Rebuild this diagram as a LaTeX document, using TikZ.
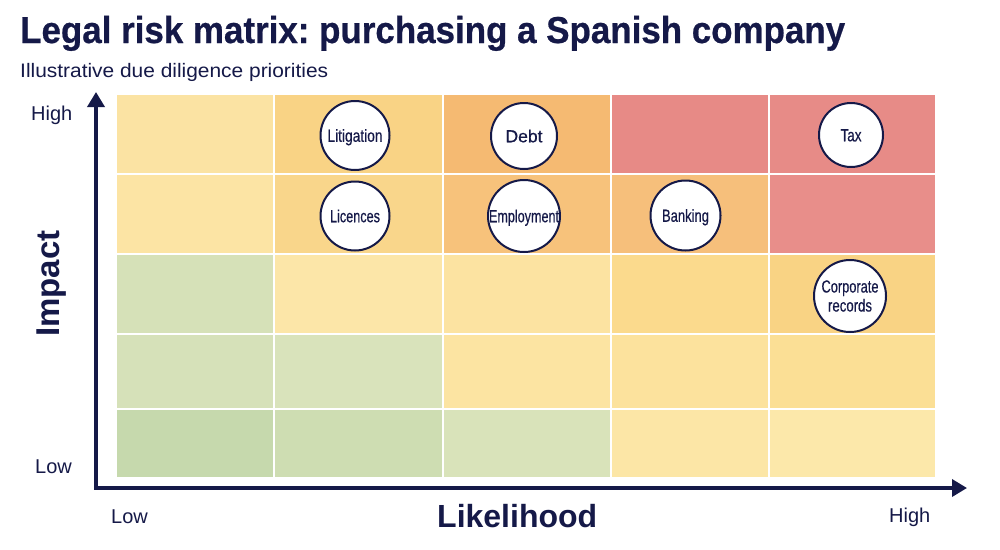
\documentclass[tikz,border=0pt]{standalone}
\usepackage{fontspec}
\setmainfont{Liberation Sans}
\newfontfamily\labelfont{Liberation Sans}[FakeBold=0.5]
\newfontfamily\titlefont{Liberation Sans Bold}[FakeBold=0.6]
\usetikzlibrary{arrows.meta}
\frenchspacing
\definecolor{navy}{RGB}{21,25,72}
\definecolor{aA}{HTML}{FBE3A3}\definecolor{aB}{HTML}{F9D385}\definecolor{aC}{HTML}{F5BA72}\definecolor{aD}{HTML}{E78A86}\definecolor{aE}{HTML}{E78B87}
\definecolor{bA}{HTML}{FCE4A4}\definecolor{bB}{HTML}{F9D68B}\definecolor{bC}{HTML}{F7C27B}\definecolor{bD}{HTML}{F6BF7B}\definecolor{bE}{HTML}{E88E8A}
\definecolor{cA}{HTML}{D6E1B8}\definecolor{cB}{HTML}{FCE6A8}\definecolor{cC}{HTML}{FCE3A1}\definecolor{cD}{HTML}{FBDA8D}\definecolor{cE}{HTML}{F9D384}
\definecolor{dA}{HTML}{D6E1B9}\definecolor{dB}{HTML}{D9E3BB}\definecolor{dC}{HTML}{FCE4A2}\definecolor{dD}{HTML}{FCE29D}\definecolor{dE}{HTML}{FBDF95}
\definecolor{eA}{HTML}{C6D9AD}\definecolor{eB}{HTML}{CEDDB2}\definecolor{eC}{HTML}{D9E3BA}\definecolor{eD}{HTML}{FCE6A6}\definecolor{eE}{HTML}{FCE8AA}
\newsavebox\fitbox
\newcommand\fitto[2]{\sbox\fitbox{#2}\pgfmathsetmacro\fitfac{#1/\the\wd\fitbox}\scalebox{\fitfac}[1]{\usebox\fitbox}}
\begin{document}
\begin{tikzpicture}[x=1pt,y=-1pt,
  txt/.style={inner sep=0pt,text=navy},
  axis/.style={draw=navy,line width=3.5pt,line cap=rect,-{Triangle[width=17pt,length=15pt]}},
  risk/.style={circle,draw=navy,line width=2pt,fill=white,inner sep=0pt,text=navy,font=\labelfont\fontsize{17.5}{19}\selectfont,text height=12.5pt,text depth=0pt}]
\useasboundingbox (0,0) rectangle (1000,549);
\fill[white] (0,0) rectangle (1000,549);
% row 1
\fill[aA] (117,95) rectangle (273,173);
\fill[aB] (275,95) rectangle (442,173);
\fill[aC] (444,95) rectangle (610,173);
\fill[aD] (612,95) rectangle (768,173);
\fill[aE] (770,95) rectangle (935,173);
% row 2
\fill[bA] (117,175) rectangle (273,253);
\fill[bB] (275,175) rectangle (442,253);
\fill[bC] (444,175) rectangle (610,253);
\fill[bD] (612,175) rectangle (768,253);
\fill[bE] (770,175) rectangle (935,253);
% row 3
\fill[cA] (117,255) rectangle (273,333);
\fill[cB] (275,255) rectangle (442,333);
\fill[cC] (444,255) rectangle (610,333);
\fill[cD] (612,255) rectangle (768,333);
\fill[cE] (770,255) rectangle (935,333);
% row 4
\fill[dA] (117,335) rectangle (273,408);
\fill[dB] (275,335) rectangle (442,408);
\fill[dC] (444,335) rectangle (610,408);
\fill[dD] (612,335) rectangle (768,408);
\fill[dE] (770,335) rectangle (935,408);
% row 5
\fill[eA] (117,410) rectangle (273,477);
\fill[eB] (275,410) rectangle (442,477);
\fill[eC] (444,410) rectangle (610,477);
\fill[eD] (612,410) rectangle (768,477);
\fill[eE] (770,410) rectangle (935,477);
% axes
\coordinate (o) at (96,488);
\coordinate (ytip) at (96,92);
\coordinate (xtip) at (967,488);
\draw[axis] (o) -- (ytip);
\draw[axis] (o) -- (xtip);
% titles
\node[txt,anchor=base west,font=\titlefont\fontsize{37.5}{40}\selectfont] (title) at (20,43) {\fitto{825}{Legal risk matrix: purchasing a Spanish company}};
\node[txt,anchor=base west,font=\fontsize{19.5}{22}\selectfont] (sub) at (20,77) {\fitto{308}{Illustrative due diligence priorities}};
% axis labels
\node[txt,anchor=base west,font=\fontsize{20}{24}\selectfont] (yhigh) at (31,120) {High};
\node[txt,anchor=base west,font=\fontsize{20}{24}\selectfont] (ylow) at (35,473) {Low};
\node[txt,anchor=base west,font=\fontsize{20}{24}\selectfont] (xlow) at (111,523) {Low};
\node[txt,anchor=base west,font=\fontsize{20}{24}\selectfont] (xhigh) at (889,522) {High};
\node[txt,anchor=base west,font=\fontsize{32}{36}\selectfont\bfseries] (xlab) at (437,527) {Likelihood};
\node[txt,anchor=base west,rotate=90,font=\fontsize{33}{36}\selectfont\bfseries] (ylab) at (59.5,337) {Impact};
% risks
\node[risk,minimum size=69pt] (lit) at (355,135.5) {\fitto{55}{Litigation}};
\node[risk,minimum size=66pt] (debt) at (524,136) {\fitto{37}{Debt}};
\node[risk,minimum size=64pt] (tax) at (851,135) {\fitto{21}{Tax}};
\node[risk,minimum size=69pt] (lic) at (355,216) {\fitto{50}{Licences}};
\node[risk,minimum size=72pt] (emp) at (524,216) {\fitto{70}{Employment}};
\node[risk,minimum size=70pt] (bank) at (685.5,215.5) {\fitto{47}{Banking}};
\node[risk,minimum size=72pt,align=center,text height=,text depth=] (corp) at (850,296) {\fitto{57}{Corporate}\\\fitto{44}{records}};
\end{tikzpicture}
\end{document}
